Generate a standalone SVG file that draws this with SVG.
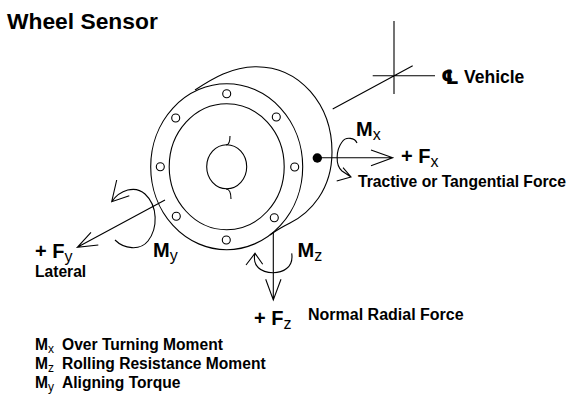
<svg xmlns="http://www.w3.org/2000/svg" width="577" height="394" viewBox="0 0 577 394">
<style>
.l{fill:none;stroke:#000;stroke-width:1.1}
text{font-family:"Liberation Sans",Arial,sans-serif;font-weight:bold;fill:#000}
.b{font-size:20px}
.sub{font-weight:normal;font-size:16px}
.subs{font-weight:normal;font-size:12px}
.s{font-size:15.600px}
</style>
<rect width="577" height="394" fill="#fff"/>
<g id="wheel">
<path class="l" d="M195 90C213 78 232 67 255 66.700C300 66 332 105 332 152C332 190 310 213 290 223C280 228 274 232 270 235"/>
<ellipse class="l" cx="226.700" cy="166.700" rx="76" ry="83"/>
<ellipse class="l" cx="226.700" cy="166.700" rx="57.500" ry="63"/>
<ellipse class="l" cx="226.700" cy="166.700" rx="20" ry="22"/>
<path class="l" d="M226 145C229 145 230 142 230 136M226 189C229 189 231 192 231 199"/>
<g class="l">
<circle cx="226.700" cy="93.700" r="4"/><circle cx="276.300" cy="117" r="4"/><circle cx="294.700" cy="167" r="4"/><circle cx="274.300" cy="217.700" r="4"/>
<circle cx="226.300" cy="240" r="4"/><circle cx="176.300" cy="216.300" r="4"/><circle cx="160.300" cy="166.700" r="4"/><circle cx="175.700" cy="118" r="4"/>
</g>
</g>
<g id="connectors">
<path class="l" d="M332.700 109L412.700 65.700M394 21V94M372.700 75.700H435"/>
<circle cx="317.300" cy="158" r="4.700"/>
<path class="l" d="M317 157.700H392.700M371 150L392.700 157.700L371 165.700"/>
<path class="l" d="M357 143C355 138 346 136 342 142C336 150 335 165 342 171L351 177M343 167.700L351 177L336.700 181"/>
<path class="l" d="M165 200L77.300 247.300M91 232.300L77.300 247.300L98.300 245"/>
<path class="l" d="M116.700 180L111.700 201.700L129.300 195.700M111.700 201.700C120 190 135 185 145 194C158 206 158 228 148 241C140 251 124 249 115 240"/>
<path class="l" d="M273.300 233V300M265.700 279.300L273.300 300L281 279.300"/>
<path class="l" d="M291.700 253.300C294 268 282 272.700 273 272.700C261 272.700 252 266 255 253.300M246 265L255 253.300L262.700 264.300"/>
</g>
<g id="labels">
<text x="7" y="28.500" style="font-size:22.800px">Wheel Sensor</text>
<text x="441" y="84" style="font-family:'DejaVu Sans',sans-serif;font-size:20px">℄</text>
<text x="464" y="83" style="font-size:17.500px">Vehicle</text>
<text x="356" y="136" class="b">M<tspan class="sub" dy="4">x</tspan></text>
<text x="401" y="163" class="b">+ F<tspan class="sub" dy="4">x</tspan></text>
<text x="358" y="186.500" style="font-size:15.700px">Tractive or Tangential Force</text>
<text x="35" y="258" class="b">+ F<tspan class="sub" dy="4">y</tspan></text>
<text x="35" y="276.500" class="s">Lateral</text>
<text x="153" y="256.500" class="b">M<tspan class="sub" dy="4">y</tspan></text>
<text x="297.500" y="256.500" class="b">M<tspan class="sub" dy="4">z</tspan></text>
<text x="254" y="325" class="b">+ F<tspan class="sub" dy="4">z</tspan></text>
<text x="308" y="320" style="font-size:16px">Normal Radial Force</text>
<text x="35" y="350" class="s">M<tspan class="subs" dy="3">x</tspan></text>
<text x="62" y="350" class="s">Over Turning Moment</text>
<text x="35" y="369" class="s">M<tspan class="subs" dy="3">z</tspan></text>
<text x="62" y="369" class="s">Rolling Resistance Moment</text>
<text x="35" y="388" class="s">M<tspan class="subs" dy="3">y</tspan></text>
<text x="62" y="388" class="s">Aligning Torque</text>
</g>
</svg>
